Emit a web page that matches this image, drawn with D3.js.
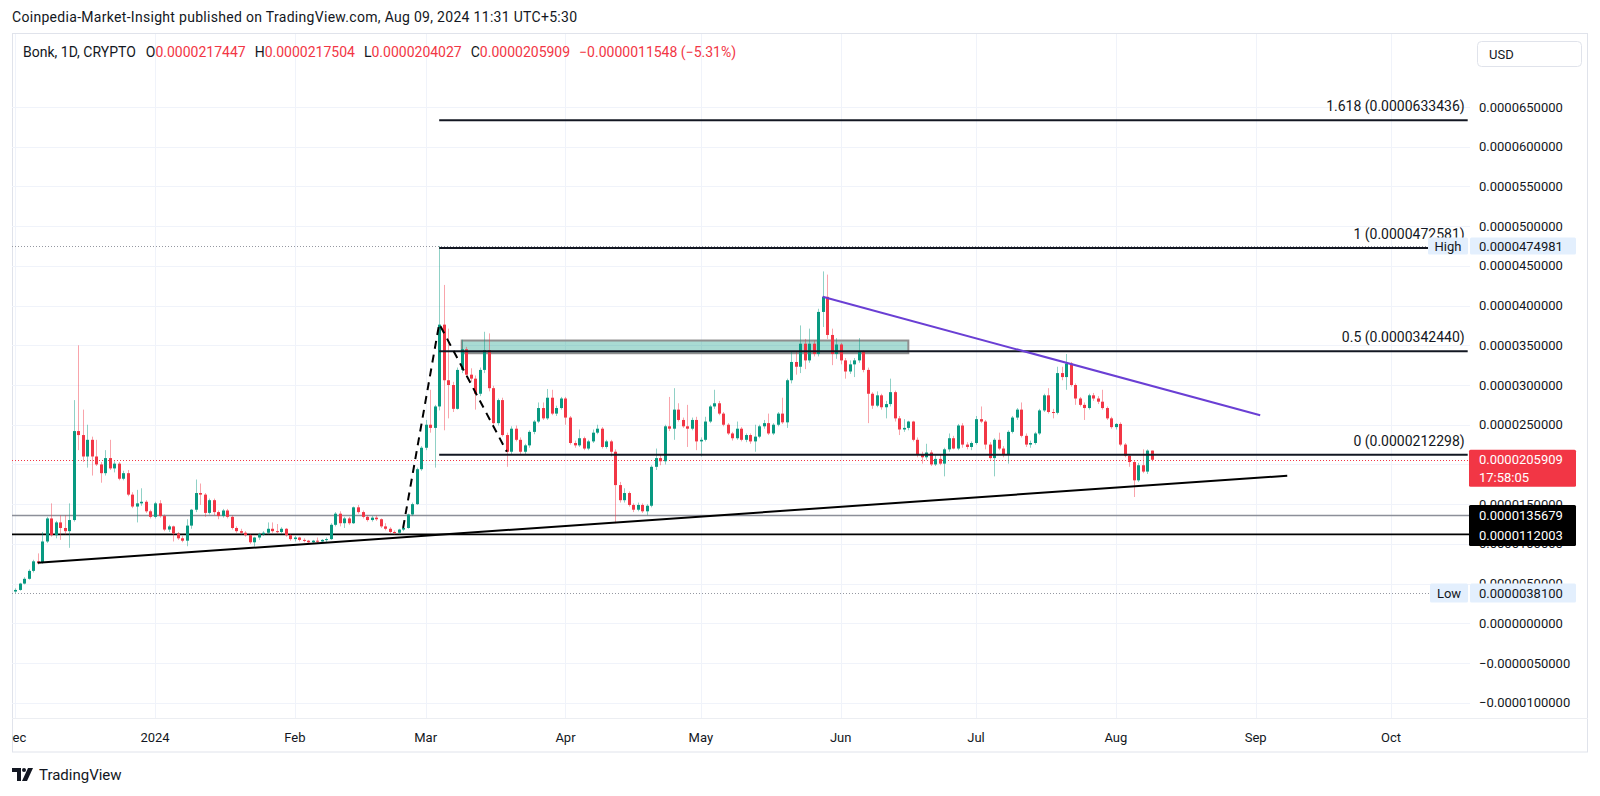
<!DOCTYPE html>
<html><head><meta charset="utf-8">
<script src="https://cdn.jsdelivr.net/npm/d3@7"></script>
<style>
html,body{margin:0;padding:0;background:#fff;}
svg{display:block;font-family:Roboto,"Noto Sans",sans-serif;}
</style></head><body>
<svg id="chart" width="1600" height="796"></svg>
<script>
// ---------- DATA (prices in units of 1e-6) ----------
const startDate = "2023-12-01";
const opens = [
4.0,4.2,5.0,5.6,6.6,7.8,7.6,10.3,13.2,11.1,
12.7,12.0,11.6,13.0,24.2,23.7,21.0,23.1,21.0,20.0,
18.9,20.8,19.5,20.1,18.2,18.9,16.2,14.7,15.1,15.3,
14.1,13.4,15.1,13.5,11.8,12.2,11.3,10.7,10.4,12.3,
14.3,16.4,16.2,13.9,15.5,14.0,13.5,14.2,13.4,12.0,
11.6,11.4,11.1,10.2,10.8,11.2,11.4,11.9,11.6,11.5,
11.9,11.1,10.6,10.8,10.5,10.4,10.2,10.4,10.3,10.5,
10.6,12.4,13.8,12.6,13.2,12.6,14.6,14.0,13.4,13.0,
13.3,13.1,12.2,11.9,11.5,11.4,11.8,12.0,13.7,15.0,
19.4,22.1,25.0,24.6,27.3,37.6,30.6,30.0,27.0,31.9,
34.5,31.3,30.8,28.9,31.9,34.4,29.6,25.2,28.1,23.7,
21.6,24.5,23.1,21.6,22.4,24.1,25.4,27.1,25.8,28.4,
26.4,27.1,28.3,25.9,22.7,22.4,23.3,22.0,22.9,24.0,
24.5,22.2,22.9,21.6,17.4,15.5,16.4,14.9,14.3,14.9,
14.1,14.8,19.7,20.8,20.4,24.8,24.5,26.9,25.6,24.8,
24.5,25.6,22.9,23.1,25.4,27.3,27.7,26.4,25.0,23.9,
23.3,24.5,23.1,23.7,22.9,23.5,24.8,25.2,23.9,25.0,
26.4,25.3,30.6,32.9,32.3,35.2,33.1,35.2,33.9,39.2,
41.1,36.3,33.9,35.1,33.1,31.7,32.6,33.1,34.2,31.9,
28.9,27.4,28.7,27.2,27.6,29.1,25.8,24.4,24.6,25.4,
23.1,21.2,20.9,21.5,20.0,20.7,20.1,21.9,23.3,22.0,
24.9,22.5,22.2,22.7,25.7,25.4,22.5,20.8,23.1,22.0,
21.2,24.1,25.9,26.9,23.6,22.5,22.7,23.9,26.8,28.7,
26.6,26.5,31.5,31.0,32.7,30.0,28.3,27.5,27.1,28.7,
28.3,27.9,27.1,25.8,24.7,25.1,22.5,21.1,20.3,18.0,
19.9,19.1,21.7447];
const highs = [
4.4,5.1,5.8,6.8,8.0,8.8,11.5,13.4,15.1,12.9,
13.6,13.6,15.1,28.1,35.0,26.9,25.0,23.5,23.1,20.3,
21.8,23.1,20.4,20.3,19.2,19.3,16.5,16.8,17.0,15.5,
14.3,15.3,15.5,13.7,12.4,12.3,11.5,11.0,13.1,14.4,
18.1,17.6,16.4,15.7,15.7,14.2,14.4,14.4,13.6,12.2,
11.9,11.6,11.2,10.9,11.4,11.6,12.7,12.7,12.5,12.1,
12.0,11.2,11.0,10.9,10.7,10.5,10.5,10.8,10.6,10.8,
12.6,14.0,14.1,13.4,13.4,14.7,14.9,14.2,13.6,13.5,
13.6,13.2,12.6,12.1,11.7,11.9,12.2,13.8,15.2,19.6,
22.3,25.6,29.4,27.5,47.4981,42.6,37.1,30.4,32.2,35.7,
34.8,32.1,31.2,32.2,36.7,36.5,29.9,28.3,28.4,24.0,
24.8,24.9,23.4,22.6,24.3,25.6,27.8,27.8,29.5,29.4,
27.4,28.5,28.5,26.1,23.0,24.4,23.5,23.1,24.4,25.0,
24.7,23.1,23.1,21.9,17.8,17.0,16.6,15.1,15.2,15.1,
15.0,19.9,22.0,21.2,25.0,28.5,29.6,27.7,25.9,27.5,
25.9,26.0,23.4,26.0,27.5,29.4,28.0,26.6,25.2,24.1,
25.4,24.7,23.9,23.9,25.0,25.0,25.6,26.4,25.2,26.6,
28.4,30.8,34.2,34.2,37.5,35.8,37.1,35.6,39.6,44.3,
43.9,37.1,35.9,35.3,33.4,33.1,33.4,35.9,34.4,32.2,
29.1,29.2,28.9,28.0,30.8,29.3,26.1,25.7,25.5,25.5,
23.4,21.6,22.6,21.8,21.3,21.3,22.1,23.9,23.6,25.1,
25.2,22.8,22.9,26.1,27.3,25.6,22.8,23.3,24.0,22.3,
24.3,26.1,27.1,27.8,23.9,23.0,24.1,27.0,28.9,29.6,
27.0,32.3,32.3,33.9,32.9,30.2,28.5,27.8,28.9,29.0,
28.6,29.4,27.3,26.0,25.2,25.3,22.7,21.3,20.5,20.2,
21.9,21.9,21.7504];
const lows = [
3.81,4.1,4.9,5.5,6.4,7.4,7.5,10.1,10.9,10.7,
10.5,11.2,9.5,12.8,21.8,20.3,19.6,18.6,19.8,17.7,
18.6,19.3,19.0,18.0,18.0,16.0,14.5,12.7,14.8,13.9,
13.2,13.2,13.3,11.6,11.5,10.3,10.5,10.2,9.7,11.9,
14.0,14.9,13.4,13.7,13.6,13.1,13.3,13.2,11.8,11.4,
11.2,10.9,10.0,9.7,10.5,11.0,11.2,11.4,11.3,11.3,
10.9,10.4,10.3,10.3,10.2,10.0,10.0,10.1,10.1,10.2,
10.5,12.2,12.2,12.0,12.4,12.5,13.8,13.2,12.8,12.8,
12.9,12.0,11.7,11.3,11.2,11.2,11.6,11.9,13.5,14.9,
19.2,21.8,24.0,19.6,26.8,24.3,25.8,26.6,26.9,31.5,
31.0,30.4,26.9,28.6,31.5,29.2,25.0,24.9,23.5,19.7,
21.3,22.9,21.3,21.3,22.1,23.8,25.2,25.6,25.6,26.2,
26.1,26.9,25.0,22.5,22.1,22.2,21.8,21.8,22.7,23.8,
22.0,22.0,21.0,12.6,15.2,15.2,14.7,14.0,14.1,13.9,
13.6,14.6,19.3,19.9,20.0,24.2,23.1,25.4,24.6,22.2,
24.3,21.8,21.0,22.9,25.2,27.0,26.2,24.8,23.7,23.0,
23.1,22.9,22.8,22.6,21.6,23.3,24.5,23.7,23.7,24.8,
25.1,24.6,30.2,31.3,31.5,32.0,32.8,33.6,33.6,37.3,
35.8,32.5,33.3,32.6,30.8,31.4,31.0,32.8,31.6,25.2,
27.0,27.2,26.9,25.8,27.3,25.4,23.7,24.1,24.3,22.9,
20.9,20.1,20.6,19.8,19.8,19.9,18.5,21.6,21.9,21.8,
22.1,21.9,21.8,22.5,25.2,21.9,20.6,18.5,21.8,20.9,
20.1,23.9,25.6,23.4,22.2,22.1,22.5,23.7,26.6,26.4,
25.8,26.3,30.6,29.4,29.8,27.5,27.3,25.6,26.9,28.0,
27.6,26.9,25.6,24.5,24.4,22.3,20.9,19.7,15.9,17.8,
18.9,18.8,20.4027];
const closes = [
4.2,5.0,5.6,6.6,7.8,7.6,10.3,13.2,11.1,12.7,
12.0,11.6,13.0,24.2,23.7,21.0,23.1,21.0,20.0,18.9,
20.8,19.5,20.1,18.2,18.9,16.2,14.7,15.1,15.3,14.1,
13.4,15.1,13.5,11.8,12.2,11.3,10.7,10.4,12.3,14.3,
16.4,16.2,13.9,15.5,14.0,13.5,14.2,13.4,12.0,11.6,
11.4,11.1,10.2,10.8,11.2,11.4,11.9,11.6,11.5,11.9,
11.1,10.6,10.8,10.5,10.4,10.2,10.4,10.3,10.5,10.6,
12.4,13.8,12.6,13.2,12.6,14.6,14.0,13.4,13.0,13.3,
13.1,12.2,11.9,11.5,11.4,11.8,12.0,13.7,15.0,19.4,
22.1,25.0,24.6,27.3,37.6,30.6,30.0,27.0,31.9,34.5,
31.3,30.8,28.9,31.9,34.4,29.6,25.2,28.1,23.7,21.6,
24.5,23.1,21.6,22.4,24.1,25.4,27.1,25.8,28.4,26.4,
27.1,28.3,25.9,22.7,22.4,23.3,22.0,22.9,24.0,24.5,
22.2,22.9,21.6,17.4,15.5,16.4,14.9,14.3,14.9,14.1,
14.8,19.7,20.8,20.4,24.8,24.5,26.9,25.6,24.8,24.5,
25.6,22.9,23.1,25.4,27.3,27.7,26.4,25.0,23.9,23.3,
24.5,23.1,23.7,22.9,23.5,24.8,25.2,23.9,25.0,26.4,
25.3,30.6,32.9,32.3,35.2,33.1,35.2,33.9,39.2,41.1,
36.3,33.9,35.1,33.1,31.7,32.6,33.1,34.2,31.9,28.9,
27.4,28.7,27.2,27.6,29.1,25.8,24.4,24.6,25.4,23.1,
21.2,20.9,21.5,20.0,20.7,20.1,21.9,23.3,22.0,24.9,
22.5,22.2,22.7,25.7,25.4,22.5,20.8,23.1,22.0,21.2,
24.1,25.9,26.9,23.6,22.5,22.7,23.9,26.8,28.7,26.6,
26.5,31.5,31.0,32.7,30.0,28.3,27.5,27.1,28.7,28.3,
27.9,27.1,25.8,24.7,25.1,22.5,21.1,20.3,18.0,19.9,
19.1,21.7447,20.5909];

// price ticks shown on the axis (0.0000200000 sits fully under the last-price tag)
const priceTicks = [65,60,55,50,45,40,35,30,25,15,10,5,0,-5,-10];
const gridTicks = [65,60,55,50,45,40,35,30,25,20,15,10,5,0,-5,-10];
const monthTicks = ["2023-12-01","2024-01-01","2024-02-01","2024-03-01","2024-04-01","2024-05-01","2024-06-01","2024-07-01","2024-08-01","2024-09-01","2024-10-01"];
const monthLabels = ["Dec","2024","Feb","Mar","Apr","May","Jun","Jul","Aug","Sep","Oct"];
const fibRatios = ["1.618","1","0.5","0"];
const fibValues = [63.3436,47.2581,34.2440,21.2298];
const fibRange = ["2024-03-04","2024-10-18"];
const supportTrend = [["2023-12-06",7.63],["2024-09-08",18.58]];
const resistanceTrend = [["2024-05-28",41.1],["2024-09-02",26.2]];
const impulseDash = [["2024-02-25",12.0],["2024-03-04",37.7],["2024-03-19",21.6]];
const zoneDates = ["2024-03-09","2024-06-16"];
const zoneValues = [35.6,34.0];
const levelGray = 13.5679, levelBlack = 11.2003;
const highValue = 47.4981, lowValue = 3.81, lastValue = 20.5909;
const ohlcLabels = ["0.0000217447","0.0000217504","0.0000204027","0.0000205909"];
const changeLabel = "−0.0000011548 (−5.31%)";

// ---------- LAYOUT ----------
const P = {l:12, r:1470, t:34, b:718};
const svg = d3.select("#chart");
const parse = d3.utcParse("%Y-%m-%d");
const x = d3.scaleUtc().domain([parse("2024-01-01"), parse("2024-10-01")]).range([155, 1391]);
const y = d3.scaleLinear().domain([0,65]).range([623.3,107.0]);
const days = d3.utcDay.range(parse(startDate), d3.utcDay.offset(parse(startDate), closes.length));
const candles = days.map((d,i)=>({d, o:opens[i], h:highs[i], l:lows[i], c:closes[i]}));
const fmt = v => (v<0?"−":"") + Math.abs(v/1e6).toFixed(10);
const TXT = "#131722", GREEN="#089981", RED="#f23645";

svg.append("rect").attr("width",1600).attr("height",796).attr("fill","#fff");
const defs = svg.append("defs");
defs.append("clipPath").attr("id","plotclip").append("rect")
  .attr("x",P.l).attr("y",P.t).attr("width",P.r-P.l).attr("height",P.b-P.t);
defs.append("clipPath").attr("id","timeclip").append("rect")
  .attr("x",P.l).attr("y",P.b).attr("width",P.r-P.l).attr("height",40);

// frame
svg.append("rect").attr("x",12.5).attr("y",33.5).attr("width",1575).attr("height",718.5)
  .attr("fill","none").attr("stroke","#e0e3eb");
svg.append("line").attr("x1",12).attr("x2",1588).attr("y1",P.b+0.5).attr("y2",P.b+0.5).attr("stroke","#eceef2");

const g = svg.append("g").attr("clip-path","url(#plotclip)");
// grid
g.selectAll(".hg").data(gridTicks).join("line")
  .attr("x1",P.l).attr("x2",P.r).attr("y1",d=>Math.round(y(d))+0.5).attr("y2",d=>Math.round(y(d))+0.5)
  .attr("stroke","#f0f3fa");
g.selectAll(".vg").data(monthTicks).join("line")
  .attr("x1",d=>Math.round(x(parse(d)))+0.5).attr("x2",d=>Math.round(x(parse(d)))+0.5)
  .attr("y1",P.t).attr("y2",P.b).attr("stroke","#f0f3fa");

// horizontal levels
g.append("line").attr("x1",P.l).attr("x2",P.r).attr("y1",y(levelGray)).attr("y2",y(levelGray))
  .attr("stroke","#8c8f99").attr("stroke-width",1.6);
g.append("line").attr("x1",P.l).attr("x2",P.r).attr("y1",y(levelBlack)).attr("y2",y(levelBlack))
  .attr("stroke","#000").attr("stroke-width",1.6);
g.append("line").attr("x1",P.l).attr("x2",1428).attr("y1",Math.round(y(highValue))+0.5).attr("y2",Math.round(y(highValue))+0.5)
  .attr("stroke","#9598a1").attr("stroke-dasharray","1,2");
g.append("line").attr("x1",P.l).attr("x2",1430).attr("y1",Math.round(y(lowValue))+0.5).attr("y2",Math.round(y(lowValue))+0.5)
  .attr("stroke","#9598a1").attr("stroke-dasharray","1,2");
g.append("line").attr("x1",P.l).attr("x2",P.r).attr("y1",Math.round(y(lastValue))+0.5).attr("y2",Math.round(y(lastValue))+0.5)
  .attr("stroke",RED).attr("stroke-dasharray","1,2");

// zone rectangle
g.append("rect").attr("x",x(parse(zoneDates[0]))).attr("y",y(zoneValues[0]))
  .attr("width",x(parse(zoneDates[1]))-x(parse(zoneDates[0]))).attr("height",y(zoneValues[1])-y(zoneValues[0]))
  .attr("fill","rgba(8,153,129,0.35)").attr("stroke","#8f8f8f").attr("stroke-width",2);

// candles
const cg = g.append("g");
cg.selectAll(".wick").data(candles).join("line")
  .attr("x1",d=>Math.round(x(d.d))+0.5).attr("x2",d=>Math.round(x(d.d))+0.5)
  .attr("y1",d=>y(d.h)).attr("y2",d=>y(d.l))
  .attr("stroke",d=>d.c>=d.o?GREEN:RED).attr("stroke-opacity",0.45).attr("stroke-width",1);
cg.selectAll(".body").data(candles).join("rect")
  .attr("x",d=>Math.round(x(d.d))-1).attr("width",3)
  .attr("y",d=>y(Math.max(d.o,d.c)))
  .attr("height",d=>Math.max(1,Math.abs(y(d.o)-y(d.c))))
  .attr("fill",d=>d.c>=d.o?GREEN:RED);

// fib levels
const fx0 = x(parse(fibRange[0])), fx1 = x(parse(fibRange[1]));
fibValues.forEach((v,i)=>{
  g.append("line").attr("x1",fx0).attr("x2",fx1).attr("y1",y(v)).attr("y2",y(v))
    .attr("stroke","#131722").attr("stroke-width",2);
  g.append("text").attr("x",fx1-3).attr("y",y(v)-9).attr("text-anchor","end")
    .attr("font-size",14).attr("fill",TXT).text(`${fibRatios[i]} (${(v/1e6).toFixed(10)})`);
});

// trend lines
const ln = d3.line().x(d=>x(parse(d[0]))).y(d=>y(d[1]));
g.append("path").attr("d",ln(supportTrend)).attr("fill","none").attr("stroke","#000").attr("stroke-width",2);
g.append("path").attr("d",ln(resistanceTrend)).attr("fill","none").attr("stroke","#6a3fd4").attr("stroke-width",2);
g.append("path").attr("d",ln(impulseDash)).attr("fill","none").attr("stroke","#000").attr("stroke-width",2)
  .attr("stroke-dasharray","8,6");

// price axis labels
const ax = svg.append("g");
ax.selectAll("text").data(priceTicks).join("text")
  .attr("x",1479).attr("y",d=>y(d)).attr("dy","0.35em")
  .attr("font-size",13).attr("fill",TXT).text(d=>fmt(d));

// label boxes
function box(x0,y0,w,h,fill){ax.append("rect").attr("x",x0).attr("y",y0).attr("width",w).attr("height",h).attr("fill",fill).attr("rx",1.5);}
function label(t,xx,yy,col,anchor="start"){ax.append("text").attr("x",xx).attr("y",yy).attr("dy","0.35em").attr("font-size",13).attr("fill",col).attr("text-anchor",anchor).text(t);}
// High
const yh = y(highValue);
box(1428,yh-8.5,40,17,"#e3effd"); label("High",1448,yh,TXT,"middle");
box(1470,yh-8.5,106,17,"#e3effd"); label(fmt(highValue),1479,yh,TXT);
// Low
const yl = y(lowValue);
box(1430,yl-9.5,38,19,"#e3effd"); label("Low",1449,yl,TXT,"middle");
box(1470,yl-9.5,106,19,"#e3effd"); label(fmt(lowValue),1479,yl,TXT);
// last price
const yc = y(lastValue);
box(1469,yc-10,107,37,RED); label(fmt(lastValue),1479,yc,"#fff"); label("17:58:05",1479,yc+18,"#fff");
// levels
box(1469,505,107,41,"#000");
label(fmt(levelGray),1479,515.5,"#fff"); label(fmt(levelBlack),1479,535,"#fff");

// USD button
svg.append("rect").attr("x",1477.5).attr("y",41.5).attr("width",104).attr("height",25).attr("rx",4)
  .attr("fill","#fff").attr("stroke","#e0e3eb");
svg.append("text").attr("x",1489).attr("y",54).attr("dy","0.35em").attr("font-size",13).attr("fill",TXT).text("USD");

// time axis
svg.append("g").attr("clip-path","url(#timeclip)").selectAll("text").data(monthTicks).join("text")
  .attr("x",d=>x(parse(d))).attr("y",737).attr("dy","0.35em").attr("text-anchor","middle")
  .attr("font-size",13).attr("fill",TXT).text((d,i)=>monthLabels[i]);

// legend
const lg = svg.append("text").attr("x",23).attr("y",52).attr("dy","0.35em").attr("font-size",14).attr("fill",TXT);
lg.append("tspan").text("Bonk, 1D, CRYPTO");
["O","H","L","C"].forEach((k,i)=>{
  lg.append("tspan").attr("dx", i===0?10:9).attr("fill",TXT).text(k);
  lg.append("tspan").attr("fill",RED).text(ohlcLabels[i]);
});
lg.append("tspan").attr("dx",9).attr("fill",RED).text(changeLabel);

// header
svg.append("text").attr("x",12).attr("y",17).attr("dy","0.35em").attr("font-size",14).attr("letter-spacing",0.3).attr("fill",TXT)
  .text("Coinpedia-Market-Insight published on TradingView.com, Aug 09, 2024 11:31 UTC+5:30");

// TradingView logo
const logo = svg.append("g").attr("transform","translate(12,768)");
logo.append("path").attr("d","M0 0 H9 V13 H5 V4 H0 Z").attr("fill","#131722");
logo.append("circle").attr("cx",12).attr("cy",2).attr("r",2).attr("fill","#131722");
logo.append("path").attr("d","M16 0 H21 L15 13 H10 Z").attr("fill","#131722");
svg.append("text").attr("x",39).attr("y",775).attr("dy","0.35em").attr("font-size",15).attr("fill",TXT).text("TradingView");
</script>
</body></html>
